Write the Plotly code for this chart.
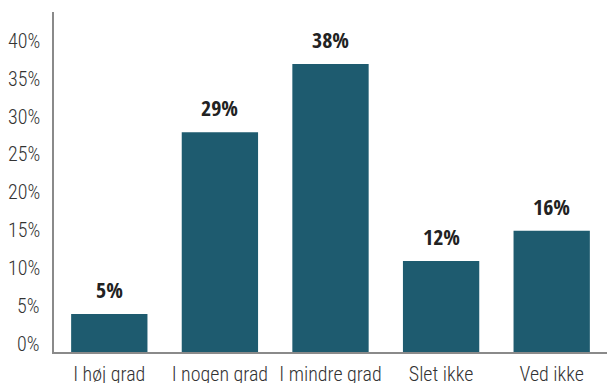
import plotly.graph_objects as go

categories = ["I høj grad", "I nogen grad", "I mindre grad", "Slet ikke", "Ved ikke"]
values = [5, 29, 38, 12, 16]
tick_values = [0, 5, 10, 15, 20, 25, 30, 35, 40]
tick_labels = [f"{v}%" for v in tick_values]

BAR_COLOR = "#1e5b6f"
LIGHT_FONT = "Roboto Condensed, sans-serif"
BOLD_FONT = "Open Sans Condensed, Roboto Condensed, sans-serif"

fig = go.Figure(
    go.Bar(
        x=categories,
        y=values,
        marker=dict(color=BAR_COLOR, line=dict(width=0)),
        hoverinfo="skip",
    )
)

annotations = []
# value labels above each bar
for cat, val in zip(categories, values):
    annotations.append(dict(
        x=cat, y=val, xref="x", yref="y",
        text=f"<b>{val}%</b>", showarrow=False,
        yanchor="bottom", yshift=8,
        font=dict(family=BOLD_FONT, size=22, color="#222222"),
    ))
# y-axis tick labels, set slightly above their value positions
for tv, tl in zip(tick_values, tick_labels):
    annotations.append(dict(
        x=0, y=tv, xref="paper", yref="y",
        text=tl, showarrow=False,
        xanchor="right", yanchor="middle", xshift=-12, yshift=8,
        font=dict(family=LIGHT_FONT, size=20, color="#333333", weight=300),
    ))

fig.update_layout(
    width=613, height=383,
    margin=dict(l=54, r=6, t=12, b=31),
    plot_bgcolor="white", paper_bgcolor="white",
    bargap=0.31,
    showlegend=False,
    annotations=annotations,
    xaxis=dict(
        showline=True, linecolor="#8a8a8a", linewidth=1.5,
        showgrid=False, ticks="", zeroline=False,
        tickangle=0, automargin=False,
        tickfont=dict(family=LIGHT_FONT, size=20, color="#333333", weight=300),
        ticklabelstandoff=3,
    ),
    yaxis=dict(
        range=[0, 44.85], showline=True, linecolor="#8a8a8a", linewidth=1.5,
        showgrid=False, zeroline=False, ticks="",
        tickvals=tick_values, showticklabels=False, automargin=False,
    ),
)

fig.write_html("out.html")
